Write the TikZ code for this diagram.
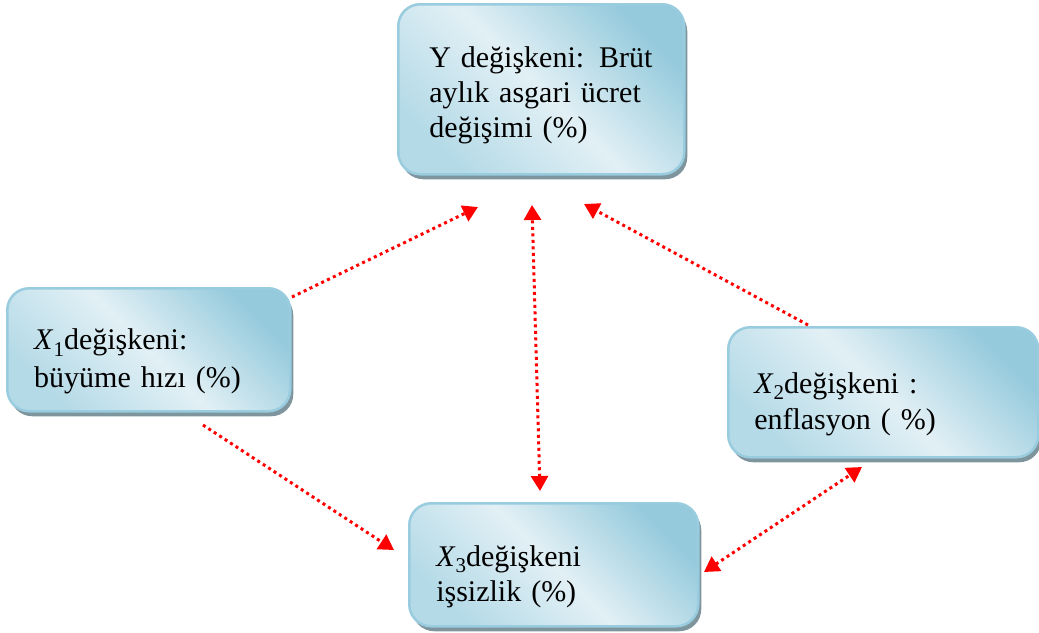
\documentclass[tikz,border=0pt]{standalone}
\usepackage{fontspec}
\setmainfont{Liberation Serif}
\usetikzlibrary{arrows.meta,shadows}
\definecolor{boxedge}{HTML}{98CCDE}
\definecolor{boxdark}{HTML}{95CADC}
\definecolor{boxlight}{HTML}{E2F0F5}
\definecolor{boxside}{HTML}{B4DAE7}
\definecolor{shadowgray}{HTML}{7F959E}
\definecolor{arrowred}{HTML}{FF0000}
\tikzset{
  varbox/.style={draw=boxedge, line width=2.5pt, rounded corners=22pt,
    left color=boxside, right color=boxdark, middle color=boxlight, shading angle=135,
    drop shadow={shadow xshift=3pt, shadow yshift=-5pt, fill=shadowgray, opacity=1},
    anchor=north west, align=left, font=\fontsize{30}{35}\selectfont, inner ysep=0pt},
  link/.style={arrowred, line width=3pt, dash pattern=on 3pt off 3.5pt},
  onehead/.style={link, -{Triangle[length=15pt,width=17pt]}},
  twohead/.style={link, {Triangle[length=15pt,width=17pt]}-{Triangle[length=15pt,width=17pt]}}
}
\newcommand{\xvar}[1]{\textit{X}\raisebox{-0.22em}{\fontsize{21}{21}\selectfont #1}}
\newcommand{\topgap}{\rule{0pt}{33pt}}
\newcommand{\lowgap}{\rule{0pt}{44pt}}
\begin{document}
\begin{tikzpicture}[x=1pt,y=-1pt]
\useasboundingbox (0,0) rectangle (1039,632);
\node[varbox, minimum width=286pt, minimum height=170pt, inner xsep=31pt, text width=224pt] (Y) at (397,3)
  {\topgap Y değişkeni: Brüt\\aylık asgari ücret\\değişimi (\%)};
\node[varbox, minimum width=283pt, minimum height=123pt, inner xsep=27pt, text width=229pt] (X1) at (6,287)
  {\lowgap\xvar{1}değişkeni:\\[3pt]büyüme hızı (\%)};
\node[varbox, minimum width=310pt, minimum height=130pt, inner xsep=26pt, text width=258pt] (X2) at (727,326)
  {\lowgap\xvar{2}değişkeni :\\[1pt]enflasyon ( \%)};
\node[varbox, minimum width=289pt, minimum height=123pt, inner xsep=27pt, text width=235pt] (X3) at (408,502)
  {\lowgap\xvar{3}değişkeni\\işsizlik (\%)};
\coordinate (a1s) at (292,297); \coordinate (a1e) at (478,207);
\coordinate (a2s) at (540,491); \coordinate (a2e) at (532,205);
\coordinate (a3s) at (808,325); \coordinate (a3e) at (584,204);
\coordinate (a4s) at (203,425); \coordinate (a4e) at (394,550);
\coordinate (a5s) at (704,572); \coordinate (a5e) at (862,467);
\draw[onehead] (a1s) -- (a1e);
\draw[twohead] (a2s) -- (a2e);
\draw[onehead] (a3s) -- (a3e);
\draw[onehead] (a4s) -- (a4e);
\draw[twohead] (a5s) -- (a5e);
\end{tikzpicture}
\end{document}
